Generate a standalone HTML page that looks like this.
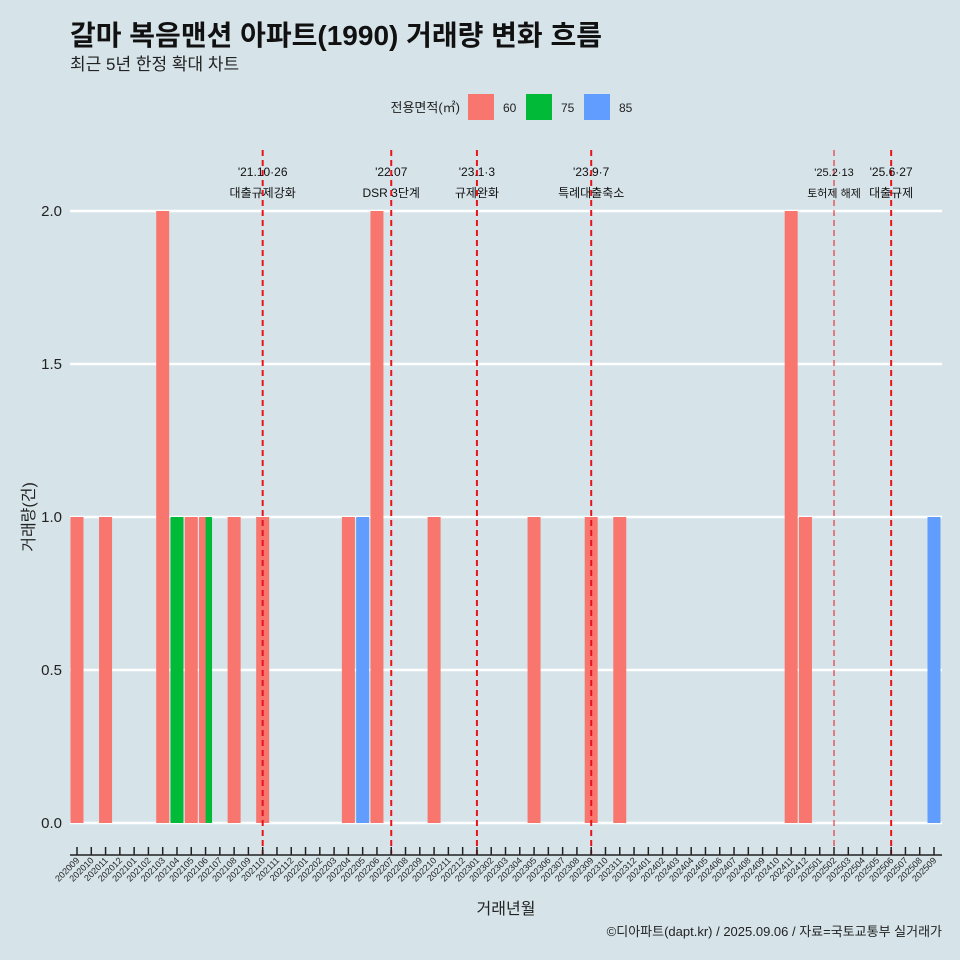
<!DOCTYPE html>
<html><head><meta charset="utf-8">
<style>
body{margin:0;background:#d6e4ea;}
svg{display:block;font-family:"Liberation Sans","Noto Sans CJK KR",sans-serif;}
</style></head>
<body>
<svg id="chart" width="960" height="960" viewBox="0 0 960 960">
<rect width="960" height="960" fill="#d6e4ea"/>
<text x="70" y="45" font-size="28" font-weight="bold" fill="#111">갈마 복음맨션 아파트(1990) 거래량 변화 흐름</text>
<text x="70" y="70" font-size="17" fill="#222">최근 5년 한정 확대 차트</text>
<g>
<text x="460" y="112" font-size="13" text-anchor="end" fill="#222">전용면적(㎡)</text>
<rect x="468" y="94" width="26" height="26" fill="#F8766D"/>
<text x="503" y="112" font-size="12" fill="#222">60</text>
<rect x="526" y="94" width="26" height="26" fill="#00BA38"/>
<text x="561" y="112" font-size="12" fill="#222">75</text>
<rect x="584" y="94" width="26" height="26" fill="#619CFF"/>
<text x="619" y="112" font-size="12" fill="#222">85</text>
</g>
<g id="grid"></g><g id="bars"></g><g id="events"></g><g id="xaxis"></g>
<text transform="translate(34,517) rotate(-90)" font-size="16" text-anchor="middle" fill="#222">거래량(건)</text>
<text x="506" y="914" font-size="16" text-anchor="middle" fill="#222">거래년월</text>
<text x="942" y="936" font-size="13" text-anchor="end" fill="#222">©디아파트(dapt.kr) / 2025.09.06 / 자료=국토교통부 실거래가</text>
</svg>
<script>
const categories=[];
for(let y=2020,m=9;y<2025||(y===2025&&m<=9);){categories.push(''+y+(m<10?'0':'')+m);m++;if(m>12){m=1;y++;}}
const barMonths=['202009','202011','202103','202104','202105','202106','202106','202108','202110','202204','202205','202206','202210','202305','202309','202311','202411','202412','202509'];
const barSizes=['60','60','60','75','60','60','75','60','60','60','85','60','60','60','60','60','60','60','85'];
const barValues=[1,1,2,1,1,1,1,1,1,1,1,2,1,1,1,1,2,1,1];
const yTicks=[0,0.5,1,1.5,2];
const yTickLabels=['0.0','0.5','1.0','1.5','2.0'];
const eventMonths=['202110','202207','202301','202309','202502','202506'];
const eventDates=["'21.10·26","'22.07","'23.1·3","'23.9·7","'25.2·13","'25.6·27"];
const eventNames=['대출규제강화','DSR 3단계','규제완화','특례대출축소','토허제 해제','대출규제'];
const colors={'60':'#F8766D','75':'#00BA38','85':'#619CFF'};
const NS='http://www.w3.org/2000/svg';
const x0=77,step=(934-77)/60,bw=13;
const xs=c=>x0+categories.indexOf(c)*step;
const ys=v=>823-v*306;
function mk(tag,attrs,parent,txt){const e=document.createElementNS(NS,tag);for(const k in attrs)e.setAttribute(k,attrs[k]);if(txt!=null)e.textContent=txt;parent.appendChild(e);return e;}
const grid=document.getElementById('grid');
yTicks.forEach((t,i)=>{
 const l=mk('line',{x1:70,x2:942,y1:ys(t),y2:ys(t),stroke:'#fff','stroke-width':2.5},grid);
 
 
 const tx=mk('text',{x:62,y:ys(t)+5,'font-size':15,'text-anchor':'end',fill:'#222'},grid,yTickLabels[i]);
 
 
});
const bars=document.getElementById('bars');
barMonths.forEach((m,i)=>{
 const same=barMonths.map((mm,j)=>mm===m?j:-1).filter(j=>j>=0);
 const n=same.length,k=same.indexOf(i),w=bw/n;
 const x=xs(m)-bw/2+k*w;
 const r=mk('rect',{x:x,y:ys(barValues[i]),width:w,height:ys(0)-ys(barValues[i]),fill:colors[barSizes[i]]},bars);
 
 
});
const ev=document.getElementById('events');
eventMonths.forEach((m,i)=>{
 const x=xs(m);const thin=m==='202502';
 const l=mk('line',{x1:x,x2:x,y1:150,y2:855,stroke:'#e8141c','stroke-width':thin?1:2,'stroke-dasharray':'6,4'},ev);
 
 
 const fs=thin?11:12;
 const t1=mk('text',{x:x,y:176,'font-size':fs,'text-anchor':'middle',fill:'#111'},ev,eventDates[i]);
 
 
 const t2=mk('text',{x:x,y:197,'font-size':fs,'text-anchor':'middle',fill:'#111'},ev,eventNames[i]);
 
 
});
const xa=document.getElementById('xaxis');
const al=mk('line',{x1:70,x2:942,y1:855,y2:855,stroke:'#222','stroke-width':1.5},xa);


categories.forEach(c=>{
 const x=xs(c);
 const t=mk('line',{x1:x,x2:x,y1:847,y2:855,stroke:'#222','stroke-width':1.5},xa);
 
 
 const tx=mk('text',{transform:'translate('+(x+3)+',861) rotate(-45)','font-size':9,'text-anchor':'end',fill:'#222'},xa,c);
 
 
});
</script>
</body></html>
